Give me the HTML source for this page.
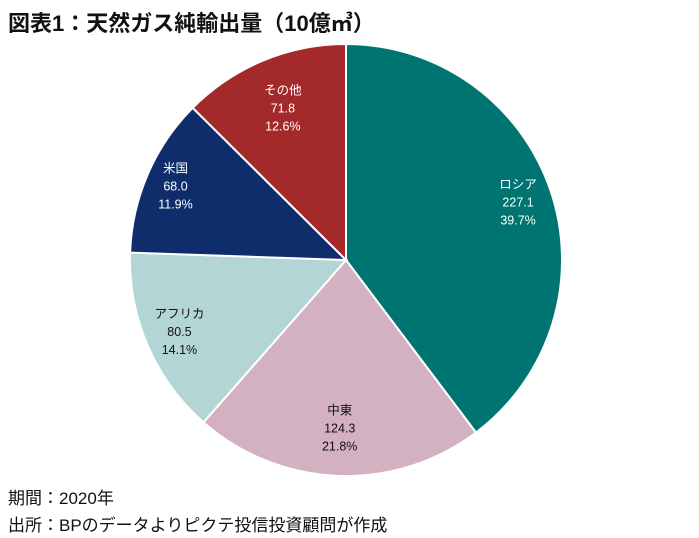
<!DOCTYPE html>
<html><head><meta charset="utf-8"><style>
body{margin:0;background:#fff;width:699px;height:538px;overflow:hidden;font-family:"Liberation Sans","Noto Sans CJK JP",sans-serif;}
#title{position:absolute;left:8px;top:6px;font-size:22px;font-weight:bold;color:#111;}
.foot{position:absolute;left:8px;font-size:17px;color:#111;}
svg{position:absolute;left:0;top:0}
</style></head><body>
<div id="title">図表1：天然ガス純輸出量（10億㎥）</div>
<svg id="chart" width="699" height="538"></svg>
<div class="foot" style="top:484px">期間：2020年</div>
<div class="foot" style="top:511px">出所：BPのデータよりピクテ投信投資顧問が作成</div>
<script>
const categories=["ロシア","中東","アフリカ","米国","その他"];
const values=[227.1,124.3,80.5,68.0,71.8];
const percents=["39.7%","21.8%","14.1%","11.9%","12.6%"];
const colors=["#007470","#d3b1c1","#b3d5d6","#0f2d6b","#a3292b"];
const textColors=["#fff","#111","#111","#fff","#fff"];
const svg=document.getElementById('chart');
const NS="http://www.w3.org/2000/svg";
const cx=346,cy=260,r=216;
const total=values.reduce((a,b)=>a+b,0);
const pt=(a,rr)=>[cx+rr*Math.sin(a),cy-rr*Math.cos(a)];
let a0=0;
const labelR=[0.84,0.78,0.84,0.86,0.76];
values.forEach((v,i)=>{
  const a1=a0+v/total*2*Math.PI;
  const [x0,y0]=pt(a0,r),[x1,y1]=pt(a1,r);
  const large=(a1-a0)>Math.PI?1:0;
  const p=document.createElementNS(NS,'path');
  p.setAttribute('d',`M${cx},${cy}L${x0},${y0}A${r},${r} 0 ${large} 1 ${x1},${y1}Z`);
  p.setAttribute('fill',colors[i]);p.setAttribute('stroke','#fff');p.setAttribute('stroke-width','2');
  
  
  svg.appendChild(p);
  const am=(a0+a1)/2;const [lx,ly]=pt(am,r*labelR[i]);
  const t=document.createElementNS(NS,'text');
  t.setAttribute('text-anchor','middle');t.setAttribute('font-size','12.5');t.setAttribute('fill',textColors[i]);
  
  
  [categories[i],values[i].toFixed(1),percents[i]].forEach((s,k)=>{
    const ts=document.createElementNS(NS,'tspan');ts.setAttribute('x',lx);ts.setAttribute('y',ly-14+k*18);ts.textContent=s;t.appendChild(ts);
  });
  svg.appendChild(t);
  a0=a1;
});
</script>
</body></html>
